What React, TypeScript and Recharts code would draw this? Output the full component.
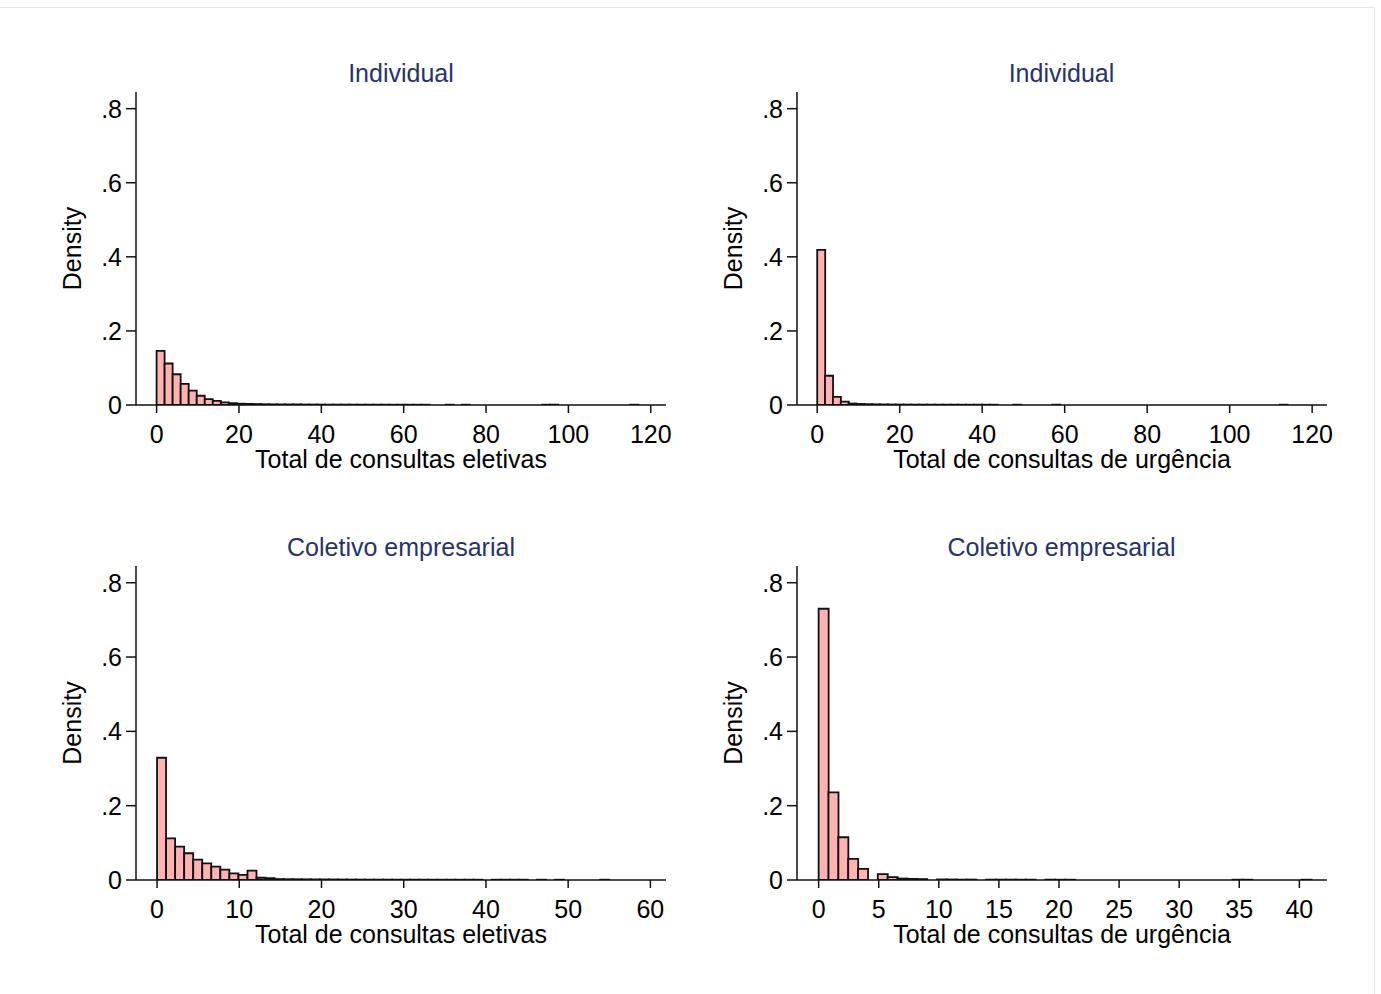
import { BarChart, Bar, XAxis, YAxis } from "recharts";

const FONT = '"Liberation Sans", Arial, sans-serif';
const TITLE_COLOR = "#26336a";
const INK = "#111";
const PINK = "#ffb2b2";
const FS = 25;

// histogramas de densidade (Stata): 60 / 50 classes por painel
const indEletivasBin = 1.95;
const indEletivas = [
  0.146, 0.112, 0.083, 0.057, 0.039, 0.025, 0.016, 0.011, 0.007, 0.005,
  0.0035, 0.003, 0.0025, 0.002, 0.0018, 0.0016, 0.0015, 0.0014, 0.0013, 0.0012,
  0.0011, 0.001, 0.001, 0.001, 0.001, 0.0009, 0.0009, 0.0009, 0.0009, 0.0008,
  0.0008, 0.0008, 0.0008, 0.0008, 0, 0, 0.0008, 0, 0.0008, 0,
  0, 0, 0, 0, 0, 0, 0, 0, 0.0008, 0.0008,
  0, 0, 0, 0, 0, 0, 0, 0, 0, 0.0008,
];

const indUrgenciaBin = 1.9;
const indUrgencia = [
  0.419, 0.079, 0.022, 0.009, 0.004, 0.0028, 0.0022, 0.0018, 0.0015, 0.0013,
  0.0012, 0.0011, 0.001, 0.001, 0.001, 0.0009, 0.0009, 0.0009, 0.0008, 0.0008,
  0.0008, 0.0008, 0.0008, 0, 0, 0.0008, 0, 0, 0, 0,
  0.0008, 0, 0, 0, 0, 0, 0, 0, 0, 0,
  0, 0, 0, 0, 0, 0, 0, 0, 0, 0,
  0, 0, 0, 0, 0, 0, 0, 0, 0, 0.0008,
];

const colEletivasBin = 1.1;
const colEletivas = [
  0.329, 0.112, 0.09, 0.072, 0.055, 0.045, 0.036, 0.028, 0.018, 0.014,
  0.025, 0.006, 0.005, 0.0025, 0.0022, 0.002, 0.0018, 0.0016, 0.0015, 0.0014,
  0.0013, 0.0012, 0.0011, 0.001, 0.001, 0.001, 0.0009, 0.0009, 0.0009, 0.0009,
  0.0008, 0.0008, 0.0008, 0.0008, 0.0008, 0.0008, 0, 0.0008, 0.0008, 0.0008,
  0.0008, 0, 0.0008, 0, 0.0008, 0, 0, 0, 0, 0.0008,
];

const colUrgenciaBin = 0.82;
const colUrgencia = [
  0.73, 0.236, 0.115, 0.057, 0.03, 0, 0.016, 0.008, 0.004, 0.003,
  0.0025, 0, 0.0015, 0.0013, 0.0012, 0.0011, 0, 0.001, 0.001, 0.001,
  0.0009, 0.0009, 0, 0.0009, 0.0008, 0.0008, 0, 0, 0, 0,
  0, 0, 0, 0, 0, 0, 0, 0, 0, 0,
  0, 0, 0.0008, 0.0008, 0, 0, 0, 0, 0, 0.0008,
];

const yTicks = [0, 0.2, 0.4, 0.6, 0.8];
const ticks120 = [0, 20, 40, 60, 80, 100, 120];
const ticks60 = [0, 10, 20, 30, 40, 50, 60];
const ticks40 = [0, 5, 10, 15, 20, 25, 30, 35, 40];

const toRows = (dens: number[], w: number) =>
  dens.map((d, i) => ({ x: (i + 0.5) * w, density: d }));

const fmtY = (v: number) => (v === 0 ? "0" : String(v).replace(/^0/, ""));

const W = 640;
const H = 440;

function Panel(props: {
  left: number;
  top: number;
  marginTop: number;
  rows: { x: number; density: number }[];
  domain: [number, number];
  ticks: number[];
  xLabel: string;
}) {
  const { left, top, marginTop, rows, domain, ticks, xLabel } = props;
  return (
    <div style={{ position: "absolute", left, top }}>
      <BarChart
        width={W}
        height={H}
        data={rows}
        margin={{ top: marginTop, right: 14, bottom: 10, left: 0 }}
        barCategoryGap={0}
        barGap={0}
      >
        <XAxis
          dataKey="x"
          type="number"
          domain={domain}
          allowDataOverflow
          ticks={ticks}
          interval={0}
          height={75}
          tickSize={8}
          tickMargin={12}
          axisLine={{ stroke: INK, strokeWidth: 1.5 }}
          tickLine={{ stroke: INK, strokeWidth: 1.5 }}
          tick={{ fontSize: FS, fill: "#000" }}
          label={{ value: xLabel, position: "insideBottom", offset: 12, fontSize: FS, fill: "#000" }}
        />
        <YAxis
          type="number"
          domain={[0, 0.845]}
          allowDataOverflow
          ticks={yTicks}
          tickFormatter={fmtY}
          width={96}
          tickSize={10}
          tickMargin={4}
          axisLine={{ stroke: INK, strokeWidth: 1.5 }}
          tickLine={{ stroke: INK, strokeWidth: 1.5 }}
          tick={{ fontSize: FS, fill: "#000" }}
          label={{
            value: "Density",
            angle: -90,
            position: "insideLeft",
            offset: 32,
            fontSize: FS,
            fill: "#000",
            style: { textAnchor: "middle" },
          }}
        />
        <Bar
          dataKey="density"
          fill={PINK}
          stroke={INK}
          strokeWidth={1.8}
          isAnimationActive={false}
        />
      </BarChart>
    </div>
  );
}

export default function App() {
  return (
    <div style={{ position: "absolute", left: 0, top: 0, width: 1381, height: 994, fontFamily: FONT, background: "#fff" }}>
      <div style={{ position: "absolute", left: 0, top: 7, width: 1374, height: 987, borderTop: "1px solid #e8e8e8", borderRight: "1px solid #e8e8e8" }} />
      <svg width={1381} height={994} style={{ position: "absolute", left: 0, top: 0 }}>
        <text x={401} y={82} textAnchor="middle" fontSize={FS} fill={TITLE_COLOR} fontFamily={FONT}>Individual</text>
        <text x={1061.5} y={82} textAnchor="middle" fontSize={FS} fill={TITLE_COLOR} fontFamily={FONT}>Individual</text>
        <text x={401} y={556} textAnchor="middle" fontSize={FS} fill={TITLE_COLOR} fontFamily={FONT}>Coletivo empresarial</text>
        <text x={1061.5} y={556} textAnchor="middle" fontSize={FS} fill={TITLE_COLOR} fontFamily={FONT}>Coletivo empresarial</text>
      </svg>
      <Panel left={40} top={50} marginTop={42} rows={toRows(indEletivas, indEletivasBin)} domain={[-5, 123.7]} ticks={ticks120} xLabel="Total de consultas eletivas" />
      <Panel left={701} top={50} marginTop={42} rows={toRows(indUrgencia, indUrgenciaBin)} domain={[-4.9, 123.6]} ticks={ticks120} xLabel="Total de consultas de urgência" />
      <Panel left={40} top={525} marginTop={41} rows={toRows(colEletivas, colEletivasBin)} domain={[-2.56, 61.9]} ticks={ticks60} xLabel="Total de consultas eletivas" />
      <Panel left={701} top={525} marginTop={41} rows={toRows(colUrgencia, colUrgenciaBin)} domain={[-1.8, 42.3]} ticks={ticks40} xLabel="Total de consultas de urgência" />
    </div>
  );
}
